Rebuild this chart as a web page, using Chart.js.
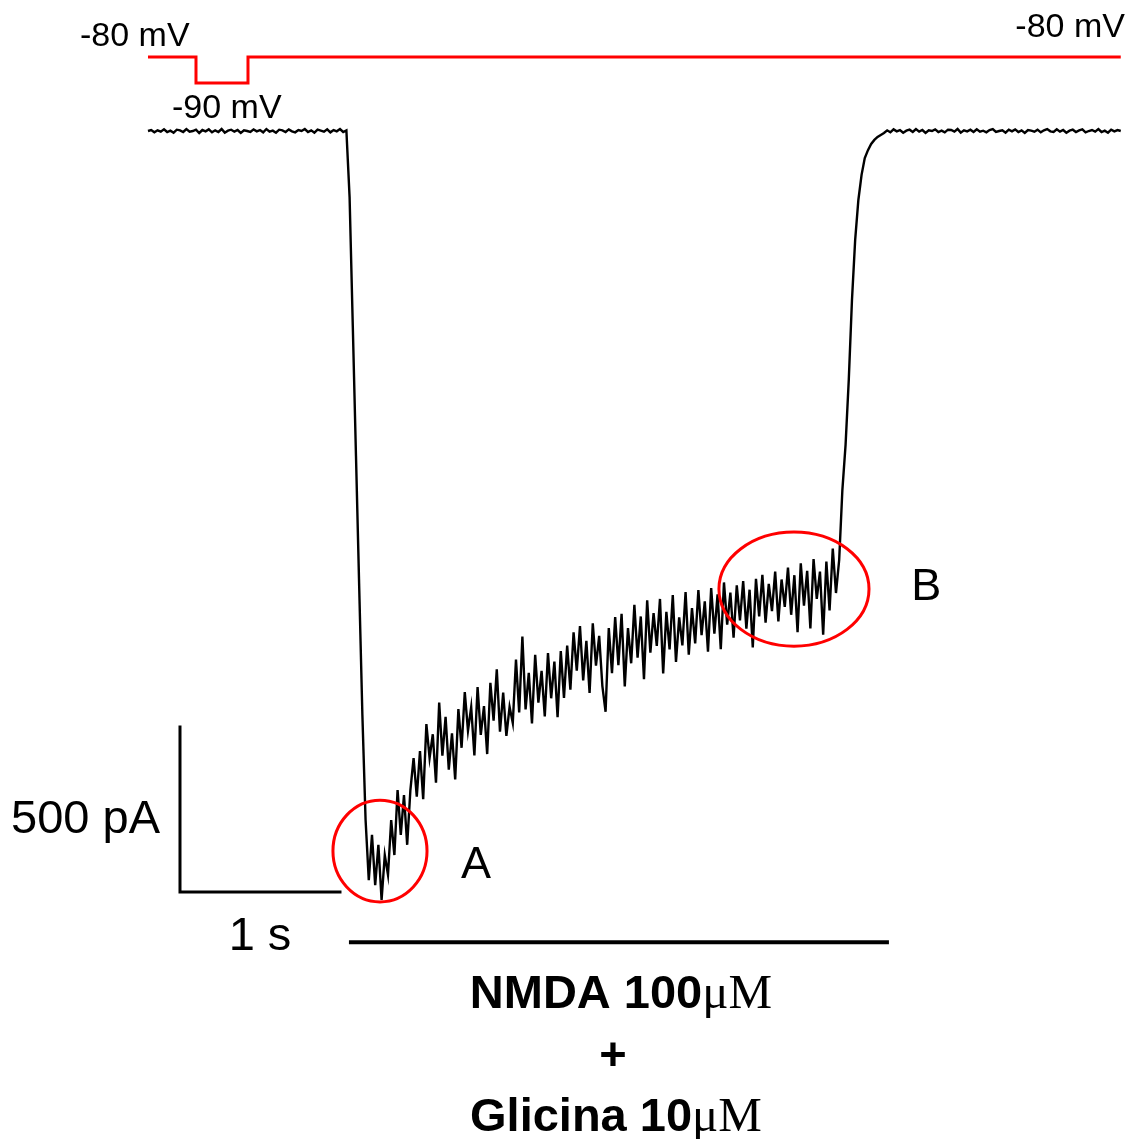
<!DOCTYPE html>
<html>
<head>
<meta charset="utf-8">
<script src="https://cdn.jsdelivr.net/npm/chart.js@4.4.1/dist/chart.umd.min.js"></script>
<style>
  body { margin: 0; background: #fff; }
  #wrap { width: 1131px; height: 1139px; position: relative; }
</style>
</head>
<body>
<div id="wrap"><canvas id="mycanvas"></canvas></div>
<script>
// whole-cell current, one sample every 20 ms (pA)
var sampleInterval = 0.02;
var currentPA = [
  0, 3, -4, 2, -2, 5, -3, 1, -5, 4,
  2, -3, 6, -2, 0, 4, -6, 3, -1, 5,
  -4, 2, -3, 6, -5, 1, 4, -2, 3, -6,
  2, 0, -3, 5, -1, 3, -4, 6, -2, 1,
  -5, 4, 2, -3, 5, -1, -4, 3, 0, 6,
  -3, 2, -5, 4, 1, -2, 5, -4, 3, -1,
  6, -3, 2,
  -200, -590, -985, -1380, -1770,
  -2088, -2270, -2133, -2285, -2163, -2330, -2194, -2254, -2088, -2194,
  -1997, -2133, -2012, -2163, -1997,
  -1900, -2017, -1879, -2025, -1797, -1900, -1828, -1975, -1732, -1893,
  -1775, -1935, -1825, -1965, -1752, -1869, -1700, -1817, -1746, -1892,
  -1685, -1830, -1743, -1888, -1672, -1787, -1631, -1820, -1702, -1833,
  -1745, -1794, -1602, -1762, -1532, -1753, -1642, -1795, -1587, -1732,
  -1636, -1774, -1582, -1719, -1608, -1776, -1576, -1718, -1559, -1693,
  -1519, -1635, -1500, -1665, -1545, -1703, -1492, -1620, -1530, -1682,
  -1760, -1506, -1643, -1473, -1619, -1463, -1683, -1506, -1613, -1436,
  -1596, -1471, -1661, -1422, -1581, -1461, -1560, -1418, -1644, -1457,
  -1571, -1406, -1609, -1474, -1559, -1397, -1587, -1446, -1553, -1391,
  -1528, -1425, -1578, -1385, -1523, -1404, -1570, -1368, -1496, -1399,
  -1535, -1377, -1483, -1364, -1508, -1390, -1565, -1357, -1471, -1345,
  -1490, -1372, -1455, -1335, -1486, -1359, -1442, -1323, -1466, -1346,
  -1519, -1310, -1438, -1333, -1507, -1297, -1418, -1335, -1526, -1305,
  -1453, -1265, -1400,
  -1300, -1088, -951, -754, -512, -330, -209, -133, -82, -58,
  -39, -27, -18, -12, -6,
  2, -4, 5, -1, 3, -5, 1, 4, -3, 6,
  -2, 3, -6, 2, 0, 5, -3, 1, -4, 4,
  3, -2, 6, -5, 2, -1, 4, -3, 5, -2,
  1, -4, 3, 6, -3, 0, 2, -5, 4, -1,
  5, -3, 2, -6, 3, 1, -2, 4, -4, 2,
  6, -1, -3, 5, -2, 3, -5, 1, 4, -3,
  2, 5, -4, 0, 3, -2, 6, -3, 1, -5,
  4, -1, 3, 0
];

// voltage protocol
var protocolTimes = [0, 0.3, 0.3, 0.625, 0.625, 6.08];
var protocolMV = [-80, -80, -90, -90, -80, -80];

// calibration bars: 1 s / 500 pA
var scaleBarTimes = [0.2, 0.2, 1.2];
var scaleBarPA = [-1806, -2306, -2306];

// NMDA + glycine application
var drugTimes = [1.256, 4.631];
var drugPA = [-2458, -2458];

var tracePoints = currentPA.map(function(v, i) { return {x: i * sampleInterval, y: v}; });
function pairs(xs, ys) { return xs.map(function(x, i) { return {x: x, y: ys[i]}; }); }

var labelsPlugin = {
  id: 'labels',
  afterDatasetsDraw: function(chart) {
    var ctx = chart.ctx;
    var sx = chart.scales.x, sI = chart.scales.yI, sV = chart.scales.yV;
    ctx.save();

    // circled regions A and B
    ctx.strokeStyle = '#ff0000';
    ctx.lineWidth = 3;
    [[1.45, -2182, 0.294, 154], [4.0375, -1388, 0.469, 173]].forEach(function(e) {
      var cx = sx.getPixelForValue(e[0]), cy = sI.getPixelForValue(e[1]);
      var rx = sx.getPixelForValue(e[0] + e[2]) - cx;
      var ry = sI.getPixelForValue(e[1] - e[3]) - cy;
      ctx.beginPath();
      ctx.ellipse(cx, cy, rx, ry, 0, 0, Math.PI * 2);
      ctx.stroke();
    });

    ctx.fillStyle = '#000';
    ctx.textBaseline = 'alphabetic';
    ctx.font = '34px "Liberation Sans", Arial, sans-serif';
    ctx.textAlign = 'left';
    ctx.fillText('-80 mV', sx.getPixelForValue(-0.425), sV.getPixelForValue(-75.8));
    ctx.fillText('-90 mV', sx.getPixelForValue(0.15), sV.getPixelForValue(-103.5));
    ctx.textAlign = 'right';
    ctx.fillText('-80 mV', sx.getPixelForValue(6.106), sV.getPixelForValue(-72.3));

    ctx.font = '47px "Liberation Sans", Arial, sans-serif';
    ctx.textAlign = 'right';
    ctx.fillText('500 pA', sx.getPixelForValue(0.075), sI.getPixelForValue(-2127));
    ctx.textAlign = 'center';
    ctx.fillText('1 s', sx.getPixelForValue(0.7), sI.getPixelForValue(-2482));
    ctx.font = '45px "Liberation Sans", Arial, sans-serif';
    ctx.textAlign = 'left';
    ctx.fillText('A', sx.getPixelForValue(1.956), sI.getPixelForValue(-2264));
    ctx.fillText('B', sx.getPixelForValue(4.77), sI.getPixelForValue(-1421));

    function mixed(main, unit, t, pa) {
      ctx.font = 'bold 47px "Liberation Sans", Arial, sans-serif';
      var w1 = ctx.measureText(main).width;
      ctx.font = '49px "Liberation Serif", "Times New Roman", serif';
      var w2 = ctx.measureText(unit).width;
      var left = sx.getPixelForValue(t) - (w1 + w2) / 2;
      var y = sI.getPixelForValue(pa);
      ctx.textAlign = 'left';
      ctx.font = 'bold 47px "Liberation Sans", Arial, sans-serif';
      ctx.fillText(main, left, y);
      ctx.font = '49px "Liberation Serif", "Times New Roman", serif';
      ctx.fillText(unit, left + w1, y);
    }
    mixed('NMDA 100', '\u03bcM', 2.956, -2658);
    ctx.font = 'bold 47px "Liberation Sans", Arial, sans-serif';
    ctx.textAlign = 'center';
    ctx.fillText('+', sx.getPixelForValue(2.906), sI.getPixelForValue(-2845));
    mixed('Glicina 10', '\u03bcM', 2.925, -3030);
    ctx.restore();
  }
};

var ctx = document.getElementById('mycanvas');
var myChart = new Chart(ctx, {
  type: 'line',
  data: {
    datasets: [{
      label: 'Current',
      data: tracePoints,
      yAxisID: 'yI',
      borderColor: '#000',
      borderWidth: 2.4,
      borderJoinStyle: 'miter',
      pointRadius: 0,
      tension: 0
    }, {
      label: 'Voltage',
      data: pairs(protocolTimes, protocolMV),
      yAxisID: 'yV',
      borderColor: '#ff0000',
      borderWidth: 3,
      pointRadius: 0,
      tension: 0
    }, {
      label: 'Scale',
      data: pairs(scaleBarTimes, scaleBarPA),
      yAxisID: 'yI',
      borderColor: '#000',
      borderWidth: 3,
      borderCapStyle: 'square',
      pointRadius: 0
    }, {
      label: 'Drug',
      data: pairs(drugTimes, drugPA),
      yAxisID: 'yI',
      borderColor: '#000',
      borderWidth: 4,
      pointRadius: 0
    }]
  },
  options: {
    responsive: true,
    maintainAspectRatio: false,
    animation: false,
    layout: { padding: 0 },
    plugins: { legend: { display: false }, tooltip: { enabled: false } },
    scales: {
      x: { type: 'linear', min: -0.925, max: 6.144, display: false },
      yI: { type: 'linear', min: -3054.5, max: 397, display: false },
      yV: { type: 'linear', min: -496.15, max: -58.08, display: false }
    }
  },
  plugins: [labelsPlugin]
});
</script>
</body>
</html>
